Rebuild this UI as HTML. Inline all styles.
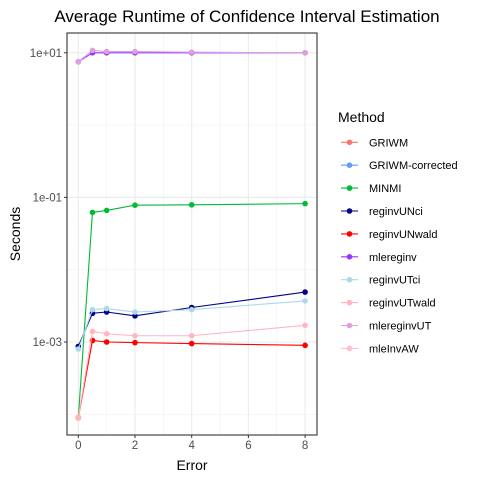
<!DOCTYPE html>
<html><head><meta charset="utf-8"><style>
body{margin:0;background:#fff;}
svg{display:block;font-family:"Liberation Sans",sans-serif;}
</style></head><body>
<svg id="chart" width="480" height="480" viewBox="0 0 480 480">
<rect width="480" height="480" fill="#fff"/>
<text x="247" y="22" font-size="17" text-anchor="middle" fill="#000">Average Runtime of Confidence Interval Estimation</text>
<text transform="translate(20,234) rotate(-90)" font-size="14" text-anchor="middle">Seconds</text>
<text x="192" y="470" font-size="14" text-anchor="middle">Error</text>
<g id="grid"></g><g id="series"></g><g id="axes"></g><g id="legend"></g>
</svg>
<script>
const xVals=[0,0.5,1,2,4,8];
const xTicks=[0,2,4,6,8];
const yTicks=[1e1,1e-1,1e-3];
const yTickLabels=["1e+01","1e-01","1e-03"];
const yMinor=[1e0,1e-2,1e-4];
const methods=["GRIWM","GRIWM-corrected","MINMI","reginvUNci","reginvUNwald","mlereginv","reginvUTci","reginvUTwald","mlereginvUT","mleInvAW"];
const colors=["#F8766D","#619CFF","#00BA38","#00008B","#FF0000","#9B30FF","#ADD8E6","#FFB6C1","#DDA0DD","#FFC0CB"];
const MINMI=[9e-5,0.062,0.066,0.078,0.079,0.082];
const reginvUNci=[8.7e-4,2.5e-3,2.6e-3,2.3e-3,3.0e-3,4.9e-3];
const reginvUNwald=[9e-5,1.05e-3,1.0e-3,0.98e-3,0.95e-3,0.9e-3];
const mlereginv=[7.5,10,10,10,10,10];
const reginvUTci=[8e-4,2.8e-3,2.9e-3,2.6e-3,2.8e-3,3.7e-3];
const reginvUTwald=[9e-5,1.4e-3,1.3e-3,1.22e-3,1.22e-3,1.7e-3];
const mlereginvUT=[7.5,10.8,10.4,10.4,10.2,10];
const seriesList=[["MINMI",MINMI,2],["reginvUNci",reginvUNci,3],["reginvUNwald",reginvUNwald,4],["reginvUTci",reginvUTci,6],["reginvUTwald",reginvUTwald,7],["mlereginv",mlereginv,5],["mlereginvUT",mlereginvUT,8]];
const L=67,R=317,T=33,B=435;
const sx=v=>78.3+v*28.35;
const sy=v=>342-(Math.log10(v)+3)*72.3;
const NS="http://www.w3.org/2000/svg";
function mk(tag,attrs,parent){const e=document.createElementNS(NS,tag);for(const k in attrs)e.setAttribute(k,attrs[k]);parent.appendChild(e);return e;}
const grid=document.getElementById('grid');
mk('rect',{x:L,y:T,width:R-L,height:B-T,fill:'#fff'},grid);
[1,3,5,7].forEach(v=>mk('line',{x1:sx(v),x2:sx(v),y1:T,y2:B,stroke:'#f0f0f0','stroke-width':0.6},grid));
yMinor.forEach(v=>mk('line',{x1:L,x2:R,y1:sy(v),y2:sy(v),stroke:'#f0f0f0','stroke-width':0.6},grid));
xTicks.forEach(v=>mk('line',{x1:sx(v),x2:sx(v),y1:T,y2:B,stroke:'#ebebeb','stroke-width':1.1},grid));
yTicks.forEach(v=>mk('line',{x1:L,x2:R,y1:sy(v),y2:sy(v),stroke:'#ebebeb','stroke-width':1.1},grid));
const sg=document.getElementById('series');
seriesList.forEach(([name,vals,ci])=>{
  const g=mk('g',{},sg);
  
  
  const pts=xVals.map((x,i)=>sx(x)+','+sy(vals[i])).join(' ');
  mk('polyline',{points:pts,fill:'none',stroke:colors[ci],'stroke-width':1.1},g);
  xVals.forEach((x,i)=>{
    const c=mk('circle',{cx:sx(x),cy:sy(vals[i]),r:2.8,fill:colors[ci]},g);
    
    
  });
});
const ax=document.getElementById('axes');
mk('rect',{x:L,y:T,width:R-L,height:B-T,fill:'none',stroke:'#333','stroke-width':1.1},ax);
xTicks.forEach(v=>{
  mk('line',{x1:sx(v),x2:sx(v),y1:B,y2:B+3,stroke:'#333'},ax);
  const t=mk('text',{x:sx(v),y:B+14,'font-size':11.5,'text-anchor':'middle',fill:'#4d4d4d'},ax);t.textContent=v;
  
  
});
yTicks.forEach((v,i)=>{
  mk('line',{x1:L-3,x2:L,y1:sy(v),y2:sy(v),stroke:'#333'},ax);
  const t=mk('text',{x:L-5,y:sy(v)+4,'font-size':11.5,'text-anchor':'end',fill:'#4d4d4d'},ax);t.textContent=yTickLabels[i];
  
  
});
const lg=document.getElementById('legend');
const lt=mk('text',{x:338,y:122,'font-size':14},lg);lt.textContent='Method';


methods.forEach((m,i)=>{
  const y=142.3+i*22.9;
  const g=mk('g',{},lg);
  
  
  mk('line',{x1:341,x2:358,y1:y,y2:y,stroke:colors[i],'stroke-width':1.1},g);
  mk('circle',{cx:349.5,cy:y,r:2.8,fill:colors[i]},g);
  const t=mk('text',{x:369,y:y+4,'font-size':11,fill:'#000'},g);t.textContent=m;
});
</script>
</body></html>
